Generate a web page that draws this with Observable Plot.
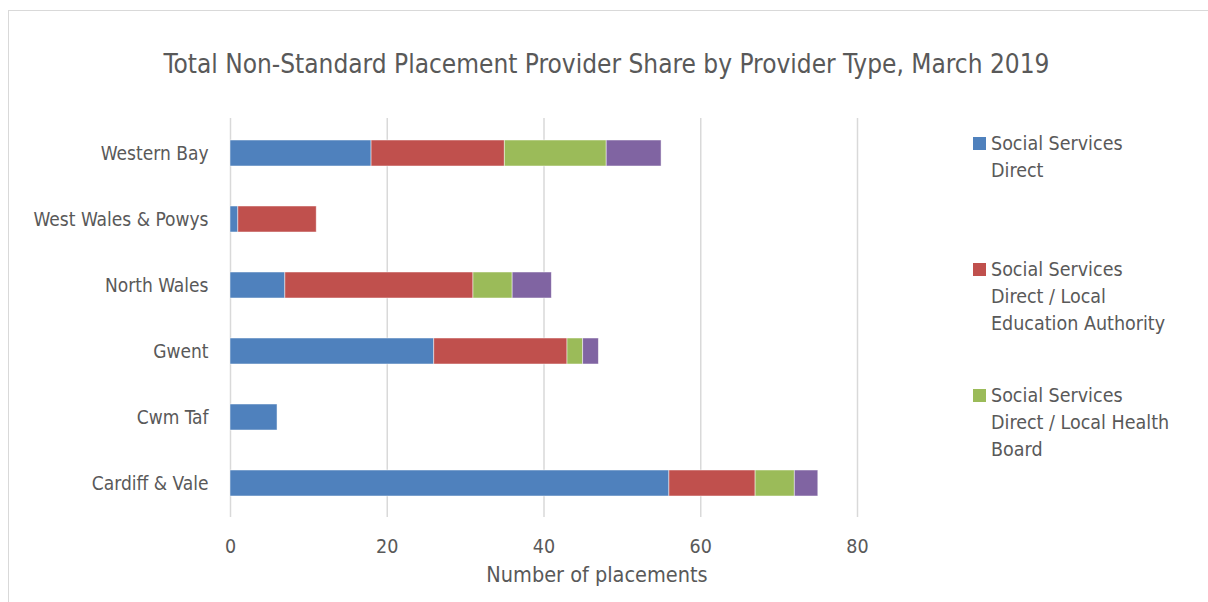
<!DOCTYPE html>
<html>
<head>
<meta charset="utf-8">
<script src="https://cdn.jsdelivr.net/npm/d3@7"></script>
<script src="https://cdn.jsdelivr.net/npm/@observablehq/plot@0.6"></script>
<style>
  body { margin: 0; background: #fff; }
  #wrap { position: relative; width: 1208px; height: 602px; overflow: hidden;
          font-family: "DejaVu Sans Condensed", "Liberation Sans Narrow", sans-serif; color: #595959; }
  #frame { position: absolute; left: 8px; top: 10px; width: 1400px; height: 800px;
           border: 1.5px solid #d9d9d9; box-sizing: border-box; }
  #title { position: absolute; left: 0; width: 1213px; top: 47px; text-align: center;
           font-size: 26px; line-height: 34px; white-space: nowrap; }
  #chart { position: absolute; left: 0; top: 0; }
  .leg { position: absolute; left: 973px; font-size: 19.5px; line-height: 27px; }
  .leg .sw { position: absolute; left: 0; top: 7px; width: 13px; height: 13px; }
  .leg .tx { position: absolute; left: 18px; top: 0; width: 186px; }
</style>
</head>
<body>
<div id="wrap">
  <div id="frame"></div>
  <div id="chart"></div>
  <div id="title"></div>
  <div id="legend"></div>
</div>
<script>
const chartTitle = "Total Non-Standard Placement Provider Share by Provider Type, March 2019";
const xLabel = "Number of placements";
const regions = ["Western Bay", "West Wales & Powys", "North Wales", "Gwent", "Cwm Taf", "Cardiff & Vale"];
const seriesNames = [
  "Social Services Direct",
  "Social Services Direct / Local Education Authority",
  "Social Services Direct / Local Health Board",
  "Social Services Direct / Local Education Authority / Local Health Board"
];
const seriesColors = ["#4F81BD", "#C0504D", "#9BBB59", "#8064A2"];
const ssDirect    = [18, 1, 7, 26, 6, 56];
const ssDirLea    = [17, 10, 24, 17, 0, 11];
const ssDirLhb    = [13, 0, 5, 2, 0, 5];
const ssDirLeaLhb = [7, 0, 5, 2, 0, 3];
const xTicks = [0, 20, 40, 60, 80];
const legendShown = 3;

const seriesValues = [ssDirect, ssDirLea, ssDirLhb, ssDirLeaLhb];
const rows = [];
seriesNames.forEach((s, i) => regions.forEach((r, j) => {
  if (seriesValues[i][j] > 0) rows.push({region: r, series: s, value: seriesValues[i][j]});
}));

const font = '"DejaVu Sans Condensed", "Liberation Sans Narrow", sans-serif';

const chart = Plot.plot({
  width: 900,
  height: 602,
  marginLeft: 230,
  marginRight: 43,
  marginTop: 118,
  marginBottom: 85,
  style: {fontFamily: font, color: "#595959", background: "transparent"},
  x: {domain: [0, 80], label: null},
  y: {domain: regions, paddingInner: 0.61, paddingOuter: 0.305, label: null},
  color: {domain: seriesNames, range: seriesColors},
  marks: [
    Plot.ruleX(xTicks, {stroke: "#d9d9d9", strokeWidth: 1.5}),
    Plot.barX(rows, Plot.stackX({
      x: "value", y: "region", fill: "series", order: seriesNames,
      stroke: "#ffffff", strokeWidth: 0.8, strokeOpacity: 0.6
    })),
    Plot.axisX({ticks: xTicks, tickSize: 0, tickPadding: 22, fontSize: 19.5, label: null, fill: "#595959"}),
    Plot.axisY({tickSize: 0, tickPadding: 22, fontSize: 19, label: null, fill: "#595959"}),
    Plot.text([xLabel], {frameAnchor: "bottom", lineAnchor: "middle", dy: 58, dx: 53,
      fontSize: 21.5, fill: "#595959"})
  ]
});
document.getElementById("chart").appendChild(chart);
document.getElementById("title").textContent = chartTitle;

const legendTops = [130, 256, 382];
const legend = document.getElementById("legend");
for (let i = 0; i < legendShown; i++) {
  const item = document.createElement("div");
  item.className = "leg";
  item.style.top = legendTops[i] + "px";
  item.innerHTML = `<div class="sw" style="background:${seriesColors[i]}"></div><div class="tx"></div>`;
  item.querySelector(".tx").textContent = seriesNames[i];
  legend.appendChild(item);
}
</script>
</body>
</html>
